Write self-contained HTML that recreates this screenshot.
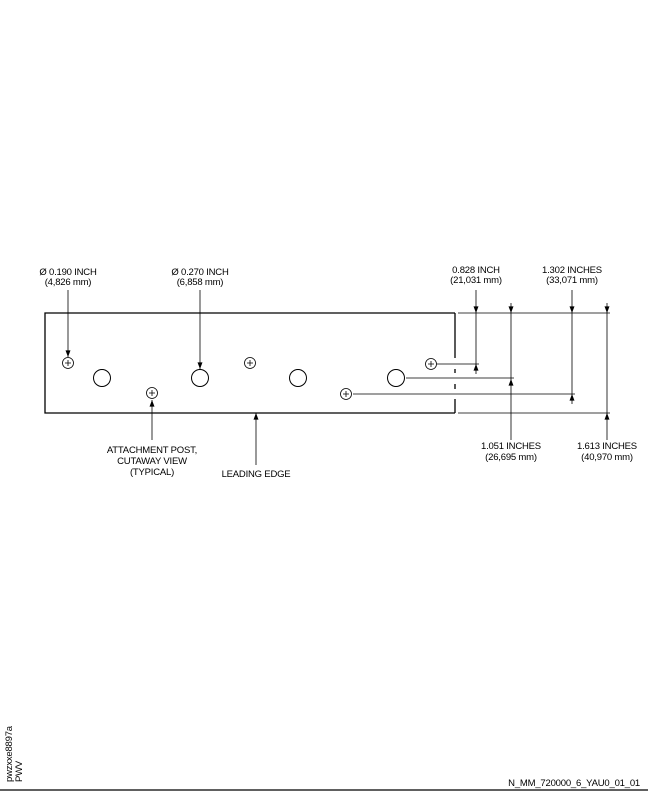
<!DOCTYPE html>
<html><head><meta charset="utf-8"><style>
html,body{margin:0;padding:0;background:#fff}
svg{display:block}
text{font-family:"Liberation Sans",sans-serif;font-size:9.5px;fill:#000;letter-spacing:-0.2px}
</style></head><body>
<svg width="648" height="792" viewBox="0 0 648 792">
<defs>
<marker id="ah" viewBox="0 0 8 6" refX="8" refY="3" markerWidth="9" markerHeight="5" orient="auto" markerUnits="userSpaceOnUse"><path d="M0,0 L8,3 L0,6 z" fill="#000"/></marker>
</defs>
<g stroke="#000" fill="none" stroke-width="1.3">
<path d="M455,313 H45 V413 H455"/>
<path d="M455,313 V358 M455,369 V373 M455,384 V389 M455,399 V413"/>
</g>
<g stroke="#000" fill="none" stroke-width="0.8">
<g><circle cx="68" cy="363" r="5.5"/><path d="M65,363h6M68,360v6"/></g>
<g><circle cx="152" cy="393" r="5.5"/><path d="M149,393h6M152,390v6"/></g>
<g><circle cx="250" cy="363" r="5.5"/><path d="M247,363h6M250,360v6"/></g>
<g><circle cx="346" cy="394" r="5.5"/><path d="M343,394h6M346,391v6"/></g>
<g><circle cx="431" cy="364" r="5.5"/><path d="M428,364h6M431,361v6"/></g>
</g>
<g stroke="#000" fill="none" stroke-width="1">
<circle cx="102" cy="378" r="8.5"/><circle cx="200" cy="378" r="8.5"/><circle cx="298" cy="378" r="8.5"/><circle cx="396" cy="378" r="8.5"/>
</g>
<g stroke="#000" fill="none" stroke-width="0.8">
<path d="M458,313H610M458,413H610"/>
<path d="M437,364H479M406,378H514M353,394H575"/>
<path d="M68,290V357" marker-end="url(#ah)"/>
<path d="M200,290V369" marker-end="url(#ah)"/>
<path d="M152,440V400" marker-end="url(#ah)"/>
<path d="M256,465V413" marker-end="url(#ah)"/>
<path d="M476,290V313" marker-end="url(#ah)"/>
<path d="M476,313V364"/>
<path d="M476,374V364" marker-end="url(#ah)"/>
<path d="M511,303V313" marker-end="url(#ah)"/>
<path d="M511,313V379"/>
<path d="M511,440V379" marker-end="url(#ah)"/>
<path d="M572,290V313" marker-end="url(#ah)"/>
<path d="M572,313V394"/>
<path d="M572,404V394" marker-end="url(#ah)"/>
<path d="M607,303V313" marker-end="url(#ah)"/>
<path d="M607,313V413"/>
<path d="M607,440V413" marker-end="url(#ah)"/>
</g>
<g text-anchor="middle">
<text x="68" y="275">Ø 0.190 INCH</text>
<text x="68" y="285">(4,826 mm)</text>
<text x="200" y="275">Ø 0.270 INCH</text>
<text x="200" y="285">(6,858 mm)</text>
<text x="476" y="273">0.828 INCH</text>
<text x="476" y="283">(21,031 mm)</text>
<text x="572" y="273">1.302 INCHES</text>
<text x="572" y="283">(33,071 mm)</text>
<text x="511" y="449">1.051 INCHES</text>
<text x="511" y="460">(26,695 mm)</text>
<text x="607" y="449">1.613 INCHES</text>
<text x="607" y="460">(40,970 mm)</text>
<text x="152" y="453">ATTACHMENT POST,</text>
<text x="152" y="464">CUTAWAY VIEW</text>
<text x="152" y="475">(TYPICAL)</text>
<text x="256" y="477">LEADING EDGE</text>
</g>
<text x="640" y="786" text-anchor="end">N_MM_720000_6_YAU0_01_01</text>
<text transform="translate(12,782) rotate(-90)">pwzxxe8897a</text>
<text transform="translate(22,782) rotate(-90)">PWV</text>
<line x1="0" y1="790" x2="648" y2="790" stroke="#000" stroke-width="1.2"/>
</svg>
</body></html>
